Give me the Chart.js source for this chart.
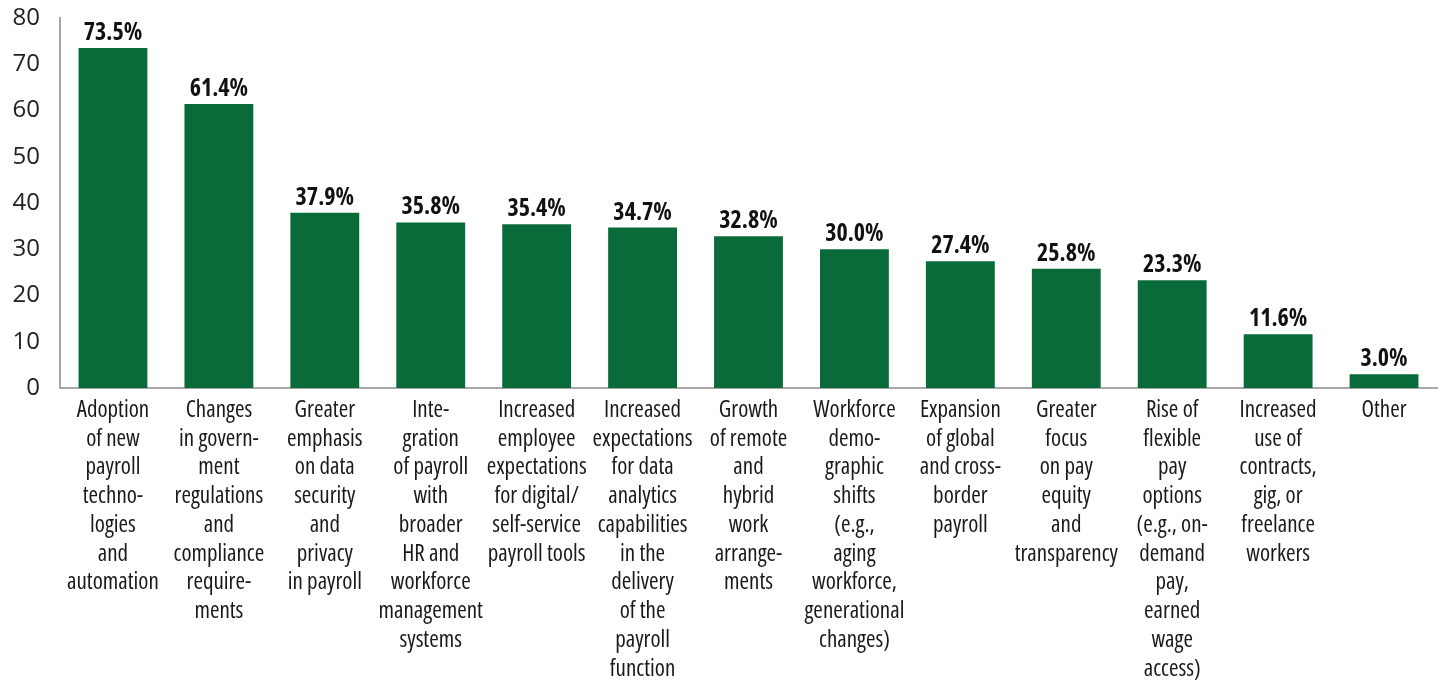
<!DOCTYPE html>
<html>
<head>
<meta charset="utf-8">
<script src="https://cdn.jsdelivr.net/npm/chart.js@4"></script>
<style>
html,body{margin:0;padding:0;background:#fff;}
#wrap{width:1445px;height:683px;position:relative;}
</style>
</head>
<body>
<div id="wrap"><canvas id="c"></canvas></div>
<script>
const categories = [
  ["Adoption","of new","payroll","techno-","logies","and","automation"],
  ["Changes","in govern-","ment","regulations","and","compliance","require-","ments"],
  ["Greater","emphasis","on data","security","and","privacy","in payroll"],
  ["Inte-","gration","of payroll","with","broader","HR and","workforce","management","systems"],
  ["Increased","employee","expectations","for digital/","self-service","payroll tools"],
  ["Increased","expectations","for data","analytics","capabilities","in the","delivery","of the","payroll","function"],
  ["Growth","of remote","and","hybrid","work","arrange-","ments"],
  ["Workforce","demo-","graphic","shifts","(e.g.,","aging","workforce,","generational","changes)"],
  ["Expansion","of global","and cross-","border","payroll"],
  ["Greater","focus","on pay","equity","and","transparency"],
  ["Rise of","flexible","pay","options","(e.g., on-","demand","pay,","earned","wage","access)"],
  ["Increased","use of","contracts,","gig, or","freelance","workers"],
  ["Other"]
];
const values = [73.5, 61.4, 37.9, 35.8, 35.4, 34.7, 32.8, 30.0, 27.4, 25.8, 23.3, 11.6, 3.0];
const yTicks = [0, 10, 20, 30, 40, 50, 60, 70, 80];

const TICK_FAMILY = "'Open Sans', sans-serif";

const valueLabels = {
  id: 'valueLabels',
  afterDatasetsDraw(chart) {
    const ctx = chart.ctx;
    const meta = chart.getDatasetMeta(0);
    ctx.save();
    ctx.font = "condensed bold 24px 'Open Sans', sans-serif";
    ctx.fillStyle = '#111';
    ctx.textAlign = 'center';
    ctx.textBaseline = 'alphabetic';
    meta.data.forEach((bar, i) => {
      ctx.fillText(values[i].toFixed(1) + '%', bar.x, bar.y - 8);
    });
    ctx.restore();
  }
};

new Chart(document.getElementById('c'), {
  type: 'bar',
  data: {
    labels: categories,
    datasets: [{
      data: values,
      backgroundColor: '#0a6b3a',
      borderWidth: 0,
      barPercentage: 0.65,
      categoryPercentage: 1.0
    }]
  },
  options: {
    responsive: true,
    maintainAspectRatio: false,
    animation: false,
    layout: { padding: { top: 18, right: 8, left: 0, bottom: 0 } },
    plugins: { legend: { display: false }, tooltip: { enabled: false } },
    scales: {
      x: {
        grid: { display: false, drawTicks: false },
        border: { display: true, color: '#a8a8a8', width: 2 },
        ticks: {
          autoSkip: false,
          maxRotation: 0,
          minRotation: 0,
          padding: 8,
          color: '#1a1a1a',
          font: { family: TICK_FAMILY, size: 23, weight: 'condensed 400', lineHeight: 1.25 }
        },
        afterFit(scale) { scale.height = 295; scale.paddingLeft = 0; scale.paddingRight = 0; }
      },
      y: {
        min: 0,
        max: 80,
        afterBuildTicks(scale) { scale.ticks = yTicks.map(v => ({ value: v })); },
        grid: { display: false, drawTicks: false },
        border: { display: true, color: '#a8a8a8', width: 2 },
        ticks: {
          padding: 20,
          color: '#222',
          font: { family: TICK_FAMILY, size: 24, lineHeight: 1.2 }
        },
        afterFit(scale) { scale.width = 60; scale.paddingTop = 0; scale.paddingBottom = 0; }
      }
    }
  },
  plugins: [valueLabels]
});
</script>
</body>
</html>
